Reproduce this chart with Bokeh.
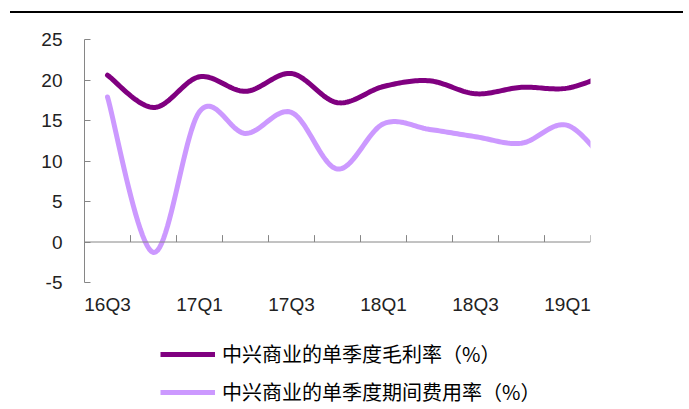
import numpy as np
from bokeh.plotting import figure
from bokeh.layouts import column, row
from bokeh.models import Range1d, FixedTicker, Span, Legend, LegendItem, Spacer
from bokeh.embed import file_html
from bokeh.resources import INLINE

quarters = ["16Q3", "16Q4", "17Q1", "17Q2", "17Q3", "17Q4",
            "18Q1", "18Q2", "18Q3", "18Q4", "19Q1", "19Q2"]
gross_margin = [20.6, 16.6, 20.4, 18.6, 20.8, 17.2, 19.2, 19.9, 18.3, 19.1, 19.0, 21.0]
expense_rate = [17.9, -1.3, 16.1, 13.4, 16.0, 9.0, 14.6, 13.9, 13.0, 12.2, 14.4, 8.6]
name_gm = "中兴商业的单季度毛利率（%）"
name_er = "中兴商业的单季度期间费用率（%）"
y_ticks = [-5, 0, 5, 10, 15, 20, 25]
shown_cats = 11  # visible category slots on the axis

GM_COL = "#800080"
ER_COL = "#CC99FF"
W = 689

def smooth(xs, ys, n=24):
    xs = np.asarray(xs, float); ys = np.asarray(ys, float)
    px = np.concatenate([[xs[0]], xs, [xs[-1]]])
    py = np.concatenate([[ys[0]], ys, [ys[-1]]])
    ox, oy = [], []
    t = np.linspace(0, 1, n)
    for i in range(1, len(px) - 2):
        for arr, out in ((px, ox), (py, oy)):
            p0, p1, p2, p3 = arr[i - 1], arr[i], arr[i + 1], arr[i + 2]
            c1 = p1 + (p2 - p0) / 6.0
            c2 = p2 - (p3 - p1) / 6.0
            b = (1 - t) ** 3 * p1 + 3 * (1 - t) ** 2 * t * c1 + 3 * (1 - t) * t ** 2 * c2 + t ** 3 * p2
            out.extend(b[:-1] if i < len(px) - 3 else b)
    return ox, oy

def bare(fig):
    fig.outline_line_color = None
    fig.background_fill_color = "white"
    fig.border_fill_color = "white"
    fig.xgrid.visible = False
    fig.ygrid.visible = False
    return fig

# ---- top rule (a thin black strip) ----
rule = Spacer(width=673, height=2, styles={"background-color": "black"})

# ---- main chart ----
xc = [i + 0.5 for i in range(len(quarters))]

p = bare(figure(width=W, height=317, output_backend="svg", toolbar_location=None,
                x_range=Range1d(0, shown_cats), y_range=Range1d(-5, 25),
                min_border_left=84, min_border_right=99, min_border_top=26, min_border_bottom=48))

axis_col = "#868686"
font = "Liberation Sans"

p.yaxis.ticker = FixedTicker(ticks=y_ticks)
p.yaxis.major_label_overrides = {v: str(v) for v in y_ticks}
p.yaxis.axis_line_color = axis_col
p.yaxis.major_tick_line_color = axis_col
p.yaxis.major_tick_in = 6
p.yaxis.major_tick_out = 0
p.yaxis.minor_tick_line_color = None
p.yaxis.major_label_standoff = 22
p.yaxis.major_label_text_font = font
p.yaxis.major_label_text_font_size = "19px"
p.yaxis.major_label_text_color = "#222222"

p.xaxis.ticker = FixedTicker(ticks=xc[0:shown_cats:2])
p.xaxis.major_label_overrides = {xc[i]: quarters[i] for i in range(0, shown_cats, 2)}
p.xaxis.axis_line_color = None
p.xaxis.major_tick_line_color = None
p.xaxis.minor_tick_line_color = None
p.xaxis.major_label_standoff = 5
p.xaxis.major_label_text_font = font
p.xaxis.major_label_text_font_size = "19px"
p.xaxis.major_label_text_color = "#222222"

p.add_layout(Span(location=0, dimension="width", line_color=axis_col, line_width=1))
bx = list(range(1, shown_cats + 1))
p.segment(x0=bx, y0=[0] * len(bx), x1=bx, y1=[0.85] * len(bx), line_color=axis_col, line_width=1)

gx, gy = smooth(xc, gross_margin)
ex, ey = smooth(xc, expense_rate)
p.line(gx, gy, line_color=GM_COL, line_width=5, line_cap="round", line_join="round")
p.line(ex, ey, line_color=ER_COL, line_width=5, line_cap="round", line_join="round")

# ---- legend panel ----
lg = bare(figure(width=W, height=79, output_backend="svg", toolbar_location=None,
                 x_axis_type=None, y_axis_type=None,
                 min_border_left=84, min_border_right=99, min_border_top=0, min_border_bottom=0,
                 x_range=Range1d(-100, -99), y_range=Range1d(-100, -99)))
l1 = lg.line(xc, gross_margin, line_color=GM_COL, line_width=5)
l2 = lg.line(xc, expense_rate, line_color=ER_COL, line_width=5)
legend = Legend(items=[LegendItem(label=name_gm, renderers=[l1]),
                       LegendItem(label=name_er, renderers=[l2])],
                location=(76, 3), orientation="vertical",
                glyph_width=55, glyph_height=18, label_height=18, label_standoff=7,
                spacing=9, padding=0, margin=0,
                label_text_font="Noto Sans CJK SC", label_text_font_size="20px",
                label_text_color="#000000",
                border_line_color=None, background_fill_alpha=0)
lg.add_layout(legend, "center")

layout = column(Spacer(height=11), row(Spacer(width=10), rule), p, lg, spacing=0)
open("out.html", "w").write(file_html(layout, INLINE))
